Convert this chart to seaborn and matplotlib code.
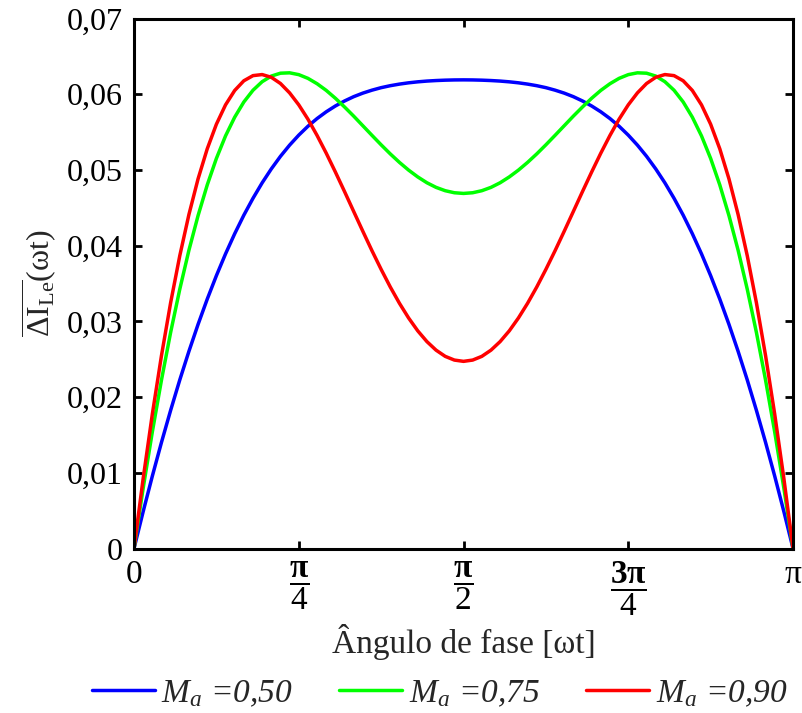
import numpy as np
import pandas as pd
import matplotlib
matplotlib.use('Agg')
import matplotlib.pyplot as plt
import seaborn as sns

sns.set_style('ticks')
plt.rcParams['font.family'] = ['Liberation Serif', 'DejaVu Serif']
plt.rcParams['mathtext.fontset'] = 'custom'
plt.rcParams['mathtext.rm'] = 'Liberation Serif'
plt.rcParams['mathtext.it'] = 'Liberation Serif:italic'
plt.rcParams['mathtext.bf'] = 'Liberation Serif:bold'

# phase angle in degrees (0 .. 180, every 2.5 deg)
angle_deg = [i * 2.5 for i in range(73)]

# normalised ripple
ripple_050 = [0, 0.00488, 0.00956, 0.01402, 0.01825, 0.02227, 0.02605, 0.02961, 0.03294, 0.03604,
              0.03892, 0.04158, 0.04403, 0.04626, 0.04830, 0.05014, 0.05180, 0.05328, 0.05460,
              0.05577, 0.05679, 0.05768, 0.05845, 0.05911, 0.05968, 0.06015, 0.06054, 0.06087,
              0.06113, 0.06134, 0.06151, 0.06164, 0.06174, 0.06181, 0.06186, 0.06189, 0.0619,
              0.06189, 0.06186, 0.06181, 0.06174, 0.06164, 0.06151, 0.06134, 0.06113, 0.06087,
              0.06054, 0.06015, 0.05968, 0.05911, 0.05845, 0.05768, 0.05679, 0.05577, 0.05460,
              0.05328, 0.05180, 0.05014, 0.04830, 0.04626, 0.04403, 0.04158, 0.03892, 0.03604,
              0.03294, 0.02961, 0.02605, 0.02227, 0.01825, 0.01402, 0.00956, 0.00488, 0]
ripple_075 = [0, 0.00797, 0.01539, 0.02225, 0.02854, 0.03425, 0.03940, 0.04398, 0.04802, 0.05152,
              0.05450, 0.05697, 0.05898, 0.06053, 0.06166, 0.06240, 0.06278, 0.06283, 0.06259,
              0.06210, 0.06139, 0.06051, 0.05947, 0.05832, 0.05711, 0.05584, 0.05457, 0.05332,
              0.05212, 0.05100, 0.04998, 0.04908, 0.04831, 0.04770, 0.04726, 0.04699, 0.0469,
              0.04699, 0.04726, 0.04770, 0.04831, 0.04908, 0.04998, 0.05100, 0.05212, 0.05332,
              0.05457, 0.05584, 0.05711, 0.05832, 0.05947, 0.06051, 0.06139, 0.06210, 0.06259,
              0.06283, 0.06278, 0.06240, 0.06166, 0.06053, 0.05898, 0.05697, 0.05450, 0.05152,
              0.04802, 0.04398, 0.03940, 0.03425, 0.02854, 0.02225, 0.01539, 0.00797, 0]
ripple_090 = [0, 0.00925, 0.01774, 0.02548, 0.03246, 0.03867, 0.04412, 0.04883, 0.05279, 0.05604,
              0.05860, 0.06050, 0.06178, 0.06246, 0.06260, 0.06224, 0.06142, 0.06018, 0.05860,
              0.05671, 0.05456, 0.05222, 0.04973, 0.04715, 0.04452, 0.04190, 0.03933, 0.03687,
              0.03454, 0.03239, 0.03045, 0.02875, 0.02733, 0.02620, 0.02538, 0.02489, 0.02472,
              0.02489, 0.02538, 0.02620, 0.02733, 0.02875, 0.03045, 0.03239, 0.03454, 0.03687,
              0.03933, 0.04190, 0.04452, 0.04715, 0.04973, 0.05222, 0.05456, 0.05671, 0.05860,
              0.06018, 0.06142, 0.06224, 0.06260, 0.06246, 0.06178, 0.06050, 0.05860, 0.05604,
              0.05279, 0.04883, 0.04412, 0.03867, 0.03246, 0.02548, 0.01774, 0.00925, 0]

series_labels = [r'$M_a$ =0,50', r'$M_a$ =0,75', r'$M_a$ =0,90']
colors = ['#0000ff', '#00ff00', '#ff0000']

xtick_labels = ['0', r'$\dfrac{\mathbf{\pi}}{4}$', r'$\dfrac{\mathbf{\pi}}{2}$',
                r'$\dfrac{\mathbf{3\pi}}{4}$', 'π']
ytick_labels = ['0', '0,01', '0,02', '0,03', '0,04', '0,05', '0,06', '0,07']

rows = []
for lab, vals in zip(series_labels, [ripple_050, ripple_075, ripple_090]):
    for a, v in zip(angle_deg, vals):
        rows.append({'angle': np.deg2rad(a), 'ripple': v, 'serie': lab})
df = pd.DataFrame(rows)

fig = plt.figure(figsize=(8.02, 7.13), dpi=100)
ax = fig.add_axes([0.1671, 0.2307, 0.8217, 0.7433])

sns.lineplot(data=df, x='angle', y='ripple', hue='serie', palette=colors,
             linewidth=2.5, ax=ax, legend=False, sort=False)
for ln in ax.get_lines():
    ln.set_solid_joinstyle('round')

ax.set_xlim(0, np.pi)
ax.set_ylim(0, 0.07)
ax.set_xticks([0, np.pi / 4, np.pi / 2, 3 * np.pi / 4, np.pi])
ax.set_xticklabels(xtick_labels)
ax.set_yticks(np.arange(8) * 0.01)
ax.set_yticklabels(ytick_labels)
ax.tick_params(direction='in', top=True, right=True, length=6, width=2,
               colors='black', pad=8)
ax.tick_params(axis='x', labelsize=24)
ax.tick_params(axis='y', labelsize=23)
for sp in ax.spines.values():
    sp.set_visible(True)
    sp.set_linewidth(2.2)
    sp.set_color('black')

ax.set_xlabel('Ângulo de fase [ωt]', fontsize=24, labelpad=4)
ax.set_ylabel(r'$\overline{\mathrm{\Delta I}_{\mathrm{Le}}}\mathrm{(\omega t)}$', fontsize=23, labelpad=6)

fig.legend(ax.get_lines(), series_labels, loc='center', bbox_to_anchor=(0.548, 0.027),
           ncol=3, frameon=False, prop={'size': 24, 'style': 'italic'},
           handlelength=1.88, handletextpad=0.2, columnspacing=1.4)

fig.savefig('out.png', dpi=100)
